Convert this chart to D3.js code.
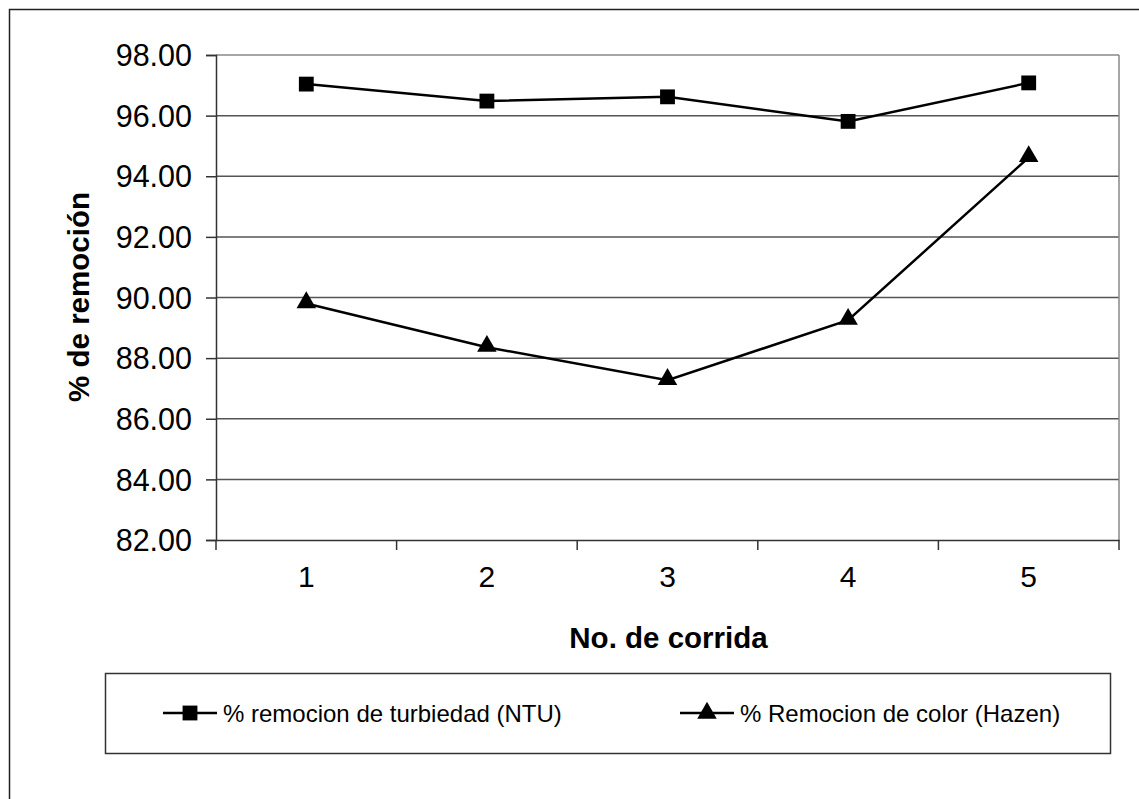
<!DOCTYPE html>
<html>
<head>
<meta charset="utf-8">
<script src="https://cdn.jsdelivr.net/npm/d3@7"></script>
<style>
  body { margin: 0; background: #fff; }
  svg { display: block; font-family: "Liberation Sans", Arial, sans-serif; }
</style>
</head>
<body>
<div id="chart"></div>
<script>
// data
const runs = ["1", "2", "3", "4", "5"];
const turbiedad = [97.04, 96.48, 96.62, 95.81, 97.08];
const color = [89.80, 88.36, 87.27, 89.25, 94.62];
const yTicks = [82, 84, 86, 88, 90, 92, 94, 96, 98];
const seriesNames = ["% remocion de turbiedad (NTU)", "% Remocion de color (Hazen)"];

let width = 1139;
let height = 799;
let plot = {left: 216, top: 55, right: 1119, bottom: 540};

let svg = d3.select("#chart").append("svg").attr("width", width).attr("height", height);

// outer chart frame (runs off the right/bottom edge)
svg.append("rect").attr("x", 9.5).attr("y", 9.5).attr("width", 1140).attr("height", 800)
  .style("fill", "none").style("stroke", "#222").style("stroke-width", 1.5);

let x = d3.scaleBand().domain(runs).range([plot.left, plot.right]);
let y = d3.scaleLinear().domain([82, 98]).range([plot.bottom, plot.top]);

// gridlines
svg.append("g").selectAll("line").data(yTicks.filter(t => t > 82)).join("line")
  .attr("x1", plot.left).attr("x2", plot.right)
  .attr("y1", d => y(d)).attr("y2", d => y(d))
  .style("stroke", d => d === 98 ? "#888" : "#555").style("stroke-width", 1.5);

// right border of plot area
svg.append("line").attr("x1", plot.right).attr("x2", plot.right)
  .attr("y1", plot.top).attr("y2", plot.bottom)
  .style("stroke", "#888").style("stroke-width", 1.5);

// y axis
let yAxis = d3.axisLeft(y).tickValues(yTicks).tickSize(10).tickPadding(14)
  .tickFormat(d3.format(".2f"));
let gy = svg.append("g").attr("transform", `translate(${plot.left},0)`).call(yAxis);
gy.select(".domain").style("stroke", "#333").style("stroke-width", 1.5);
gy.selectAll(".tick line").style("stroke", "#333").style("stroke-width", 1.5);
gy.selectAll(".tick text").style("font-size", "30.5px").style("font-family", "Liberation Sans, Arial")
  .style("fill", "#000").attr("dy", "0.35em");

// x axis: ticks between categories
let xAxis = d3.axisBottom(x).tickSize(0).tickPadding(36);
let gx = svg.append("g").attr("transform", `translate(0,${plot.bottom})`).call(xAxis);
gx.select(".domain").style("stroke", "#333").style("stroke-width", 1.5);
gx.selectAll(".tick text").style("font-size", "30px").style("font-family", "Liberation Sans, Arial")
  .style("fill", "#000").attr("dy", "0.35em");
svg.append("g").selectAll("line").data(runs.concat(["end"])).join("line")
  .attr("x1", (d, i) => i < runs.length ? x(d) : plot.right)
  .attr("x2", (d, i) => i < runs.length ? x(d) : plot.right)
  .attr("y1", plot.bottom).attr("y2", plot.bottom + 10)
  .style("stroke", "#333").style("stroke-width", 1.5);

// axis titles
svg.append("text").attr("x", (plot.left + plot.right) / 2 + 1).attr("y", 648)
  .attr("text-anchor", "middle").style("font-size", "29.5px").style("font-weight", "bold")
  .text("No. de corrida");
svg.append("text").attr("transform", "translate(89,297) rotate(-90)")
  .attr("text-anchor", "middle").style("font-size", "29.5px").style("font-weight", "bold")
  .text("% de remoción");

// lines
let lineGenerator = d3.line().x((d, i) => x(runs[i]) + x.bandwidth() / 2).y(d => y(d));
let sq = d3.symbol().type(d3.symbolSquare).size(220);
let tri = d3.symbol().type(d3.symbolTriangle).size(165);

[turbiedad, color].forEach((vals, s) => {
  svg.append("path").attr("d", lineGenerator(vals))
    .style("fill", "none").style("stroke", "#000").style("stroke-width", 2.5);
  svg.append("g").selectAll("path").data(vals).join("path")
    .attr("transform", (d, i) => `translate(${x(runs[i]) + x.bandwidth() / 2},${y(d) + (s === 1 ? -1 : 0)})`)
    .attr("d", s === 0 ? sq : tri)
    .style("fill", "#000");
});

// legend
svg.append("rect").attr("x", 105.5).attr("y", 673.5).attr("width", 1005).attr("height", 80)
  .style("fill", "#fff").style("stroke", "#333").style("stroke-width", 1.5);

let legendItems = [
  {name: seriesNames[0], x0: 163, sym: sq},
  {name: seriesNames[1], x0: 680, sym: tri}
];
legendItems.forEach(item => {
  let g = svg.append("g").attr("transform", `translate(${item.x0},713)`);
  g.append("line").attr("x1", 0).attr("x2", 54).attr("y1", 0).attr("y2", 0)
    .style("stroke", "#000").style("stroke-width", 2.5);
  g.append("path").attr("transform", "translate(27,0)").attr("d", item.sym).style("fill", "#000");
  g.append("text").attr("x", 60).attr("y", 0).attr("dy", "0.36em")
    .style("font-size", "24px").text(item.name);
});
</script>
</body>
</html>
